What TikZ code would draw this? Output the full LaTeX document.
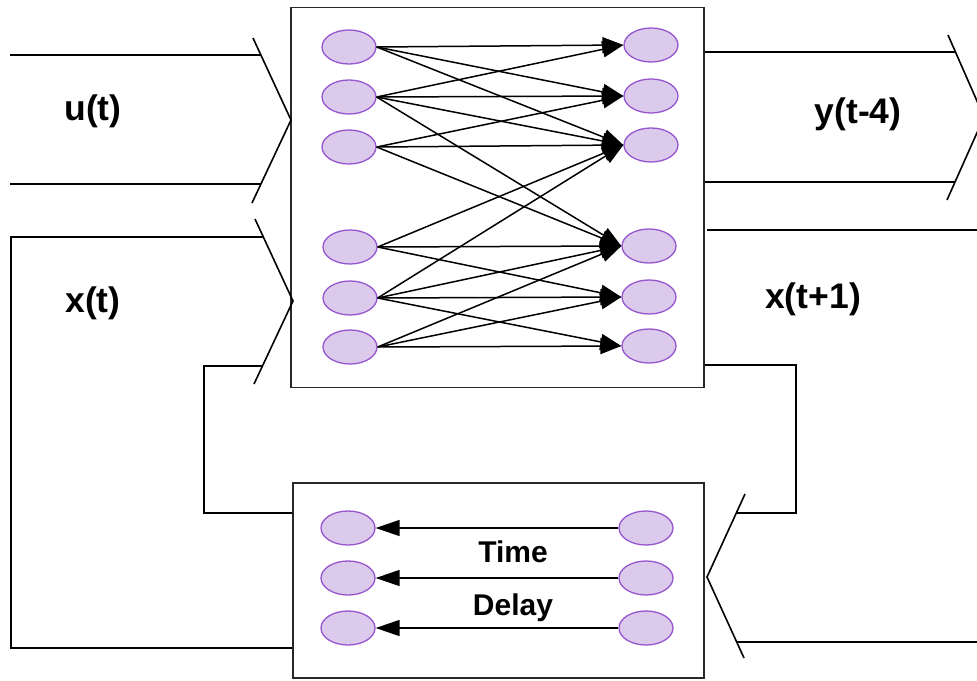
\documentclass[tikz,border=0pt]{standalone}
\usepackage{fontspec}
\setmainfont{Liberation Sans}
\usetikzlibrary{shapes.geometric,arrows.meta}
\definecolor{cellfill}{RGB}{219,202,236}
\definecolor{cellline}{RGB}{150,86,206}
\definecolor{framegray}{RGB}{40,40,40}
\begin{document}
\begin{tikzpicture}[x=1pt,y=-1pt,
  cell/.style={ellipse,draw=cellline,fill=cellfill,line width=1.3pt,
    minimum width=54pt,minimum height=34pt,inner sep=0pt},
  frame/.style={draw=framegray,line width=1.8pt,inner sep=0pt},
  wire/.style={line width=1.6pt,draw=black},
  link/.style={line width=1.5pt,-{Triangle[length=21pt,width=16pt]}},
  back/.style={line width=1.5pt,-{Triangle[length=24pt,width=16pt]}},
  lbl/.style={font=\bfseries\fontsize{35.5}{40}\selectfont,inner sep=0pt},
  lblsmall/.style={font=\bfseries\fontsize{30}{34}\selectfont,inner sep=0pt,anchor=base}]
\useasboundingbox (0,0) rectangle (977,680);
\clip (0,0) rectangle (977,680);

% network block and delay block
\node[frame,minimum width=413pt,minimum height=380pt] (net) at (497.5,197.5) {};
\node[frame,minimum width=411pt,minimum height=195pt] (delay) at (498.5,580.5) {};

% input and output cells of the network
\node[cell] (l1) at (349,47) {};
\node[cell] (l2) at (349,97) {};
\node[cell] (l3) at (349,147) {};
\node[cell] (l4) at (350,247) {};
\node[cell] (l5) at (350,298) {};
\node[cell] (l6) at (350,347) {};
\node[cell] (r1) at (651,45) {};
\node[cell] (r2) at (651,96) {};
\node[cell] (r3) at (651,145) {};
\node[cell] (r4) at (649,246) {};
\node[cell] (r5) at (649,297) {};
\node[cell] (r6) at (649,346) {};

\foreach \a/\b in {1/1,1/2,1/3,2/1,2/2,2/3,2/4,3/2,3/3,3/4,
                   4/3,4/4,4/5,5/3,5/4,5/5,5/6,6/4,6/5,6/6}
  \draw[link] (l\a.east) -- (r\b.west);

% delay cells
\node[cell] (dl1) at (348,528) {};
\node[cell] (dl2) at (348,578) {};
\node[cell] (dl3) at (348,628) {};
\node[cell] (dr1) at (646,528) {};
\node[cell] (dr2) at (646,578) {};
\node[cell] (dr3) at (646,628) {};
\foreach \i in {1,2,3}
  \draw[back] (dr\i.west) -- (dl\i.east);

% labels
\node[lbl] (ulab) at (93,111) {u(t)};
\node[lbl] (xlab) at (93,303) {x(t)};
\node[lbl] (ylab) at (858,114) {y(t-4)};
\node[lbl] (xnlab) at (813,299) {x(t+1)};
\node[lblsmall] (timelab) at (513,562) {Time};
\node[lblsmall] (delaylab) at (513,615) {Delay};

% input u(t): broad arrow into the network
\coordinate (ua) at (253,38);
\coordinate (uv) at (291,120);
\coordinate (ub) at (252,203);
\coordinate (ut0) at (10,55);
\coordinate (ut1) at (261,55);
\coordinate (ub0) at (10,184);
\coordinate (ub1) at (261,184);
\draw[wire] (ua) -- (uv) -- (ub);
\draw[wire] (ut0) -- (ut1);
\draw[wire] (ub0) -- (ub1);

% state x(t): broad arrow into the network, fed by the delay block
\coordinate (xa) at (255,219);
\coordinate (xv) at (293,301);
\coordinate (xb) at (254,384);
\coordinate (xt1) at (263,237);
\coordinate (xt0) at (11,237);
\coordinate (xb1) at (262,366);
\coordinate (xb0) at (204,366);
\draw[wire] (xa) -- (xv) -- (xb);
\draw[wire] (xt1) -- (xt0) |- (delay.west |- 0,648);
\draw[wire] (xb1) -- (xb0) |- (delay.west |- 0,513);

% output y(t-4): broad arrow leaving the network
\coordinate (ya) at (948,35);
\coordinate (yv) at (984,117);
\coordinate (yb) at (947,200);
\coordinate (yt1) at (955.5,52);
\coordinate (yb1) at (955,182);
\draw[wire] (ya) -- (yv) -- (yb);
\draw[wire] (net.east |- 0,52) -- (yt1);
\draw[wire] (net.east |- 0,182) -- (yb1);

% next state x(t+1): broad arrow into the delay block
\coordinate (da) at (745,494);
\coordinate (dv) at (707,577);
\coordinate (db) at (744,658);
\coordinate (dt1) at (736,513);
\coordinate (dtc) at (796,365);
\coordinate (db1) at (737,642);
\coordinate (db0) at (977,642);
\coordinate (xn0) at (707,230);
\coordinate (xn1) at (977,230);
\draw[wire] (da) -- (dv) -- (db);
\draw[wire] (net.east |- dtc) -- (dtc) |- (dt1);
\draw[wire] (db1) -- (db0);
\draw[wire] (xn0) -- (xn1);
\end{tikzpicture}
\end{document}
